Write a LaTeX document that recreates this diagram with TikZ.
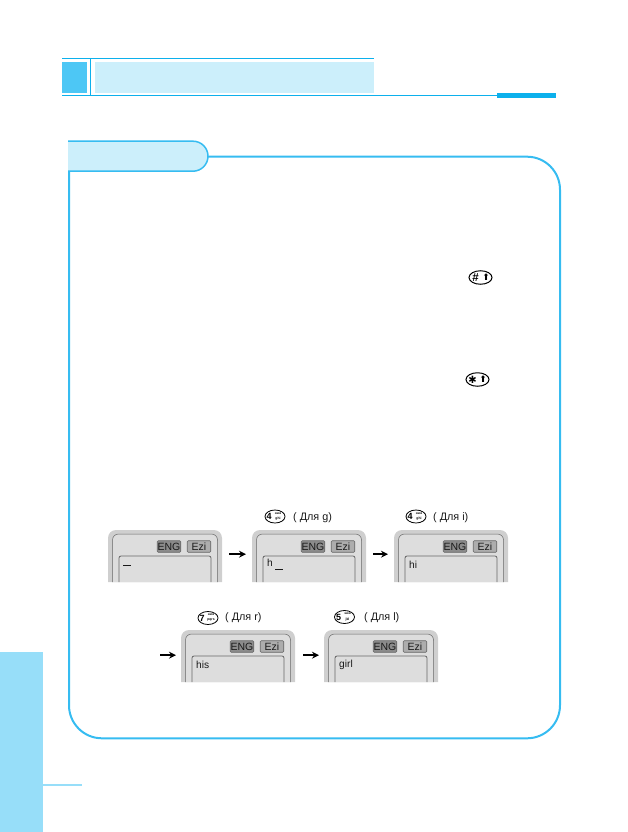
\documentclass[tikz,border=0pt]{standalone}
\usepackage{fontspec}
\setmainfont{Liberation Sans}
\newfontfamily\dejavu{DejaVu Sans}
\usetikzlibrary{shapes.geometric,arrows.meta}
\definecolor{cyanline}{HTML}{0CB0EC}
\definecolor{cyansq}{HTML}{4DC7F5}
\definecolor{cyanlt}{HTML}{CCEFFB}
\definecolor{framec}{HTML}{36BCF1}
\definecolor{sidebar}{HTML}{97DEF9}
\definecolor{phoneout}{HTML}{CFCFCF}
\definecolor{phonein}{HTML}{DDDDDD}
\definecolor{phoneln}{HTML}{666666}
\tikzset{
  phonebox/.style={minimum width=114pt,minimum height=52pt,inner sep=0pt,draw=none},
  tagbox/.style={rounded corners=1pt,draw=phoneln,line width=.6pt,minimum height=11.5pt,inner sep=0pt,font=\fontsize{10.5}{10.5}\selectfont,text=black!90},
  flowarrow/.style={line width=1.6pt,-{Stealth[length=7pt,width=7pt]},black},
  keyoval/.style={ellipse,draw=black,line width=.8pt,inner sep=0pt,minimum width=20pt,minimum height=13pt},
  hashoval/.style={ellipse,draw=black,line width=1pt,inner sep=0pt,minimum width=23pt,minimum height=13.5pt},
  forlabel/.style={anchor=west,inner sep=0pt,font=\fontsize{10.8}{11}\selectfont,text=black!90},
}
\newcommand{\curs}{\rule[-2.5pt]{7.5pt}{.9pt}}
% name, left x, top y, screen text
\newcommand{\phonepic}[4]{%
  \node[phonebox,anchor=north west] (#1) at (#2,#3) {};
  \begin{scope}[shift={(#2,#3)}]
    \fill[phoneout] (0,52) -- (0,8) arc[start angle=180,end angle=90,radius=8pt] -- (106,0) arc[start angle=90,end angle=0,radius=8pt] -- (114,52) -- cycle;
    \fill[phonein] (4.5,52) -- (4.5,10) arc[start angle=180,end angle=90,radius=6pt] -- (103.5,4) arc[start angle=90,end angle=0,radius=6pt] -- (109.5,52) -- cycle;
    \draw[phoneln,line width=.5pt] (4.5,52) -- (4.5,10) arc[start angle=180,end angle=90,radius=6pt] -- (103.5,4) arc[start angle=90,end angle=0,radius=6pt] -- (109.5,52);
    \draw[phoneln,line width=.8pt] (11,52) -- (11,28) arc[start angle=180,end angle=90,radius=2pt] -- (101,26) arc[start angle=90,end angle=0,radius=2pt] -- (103,52);
    \node[tagbox,fill=black!45,minimum width=23.5pt] (#1eng) at (61,16.5) {ENG};
    \node[tagbox,fill=black!32,minimum width=23.5pt] (#1ezi) at (91,16.5) {Ezi};
    \node[anchor=west,inner sep=0pt,font=\fontsize{10.2}{11}\selectfont,text=black!90] (#1txt) at (15,34.5) {#4};
  \end{scope}}
% name, x centre, y centre, digit, top letters, bottom letters
\newcommand{\keypic}[6]{%
  \node[keyoval] (#1) at (#2,#3) {};
  \node[inner sep=0pt,font=\bfseries\fontsize{9}{9}\selectfont] (#1d) at (#2-6,#3) {#4};
  \node[inner sep=0pt,font=\bfseries\fontsize{3.2}{3.2}\selectfont] (#1t) at (#2+3,#3-2.9) {#5};
  \node[inner sep=0pt,font=\bfseries\fontsize{3.4}{3.4}\selectfont] (#1b) at (#2+3,#3+2.4) {#6};}
\begin{document}
\begin{tikzpicture}[x=1pt,y=-1pt]
\useasboundingbox (0,0) rectangle (628,832);
% header
\fill[cyansq] (62,62) rectangle (87,93);
\fill[cyanlt] (95,62) rectangle (374,93);
\draw[cyanline,line width=1pt] (62,58.5) -- (374,58.5);
\draw[cyanline,line width=1pt] (62,95.5) -- (497,95.5);
\draw[cyanline,line width=1.3pt] (90.7,58.5) -- (90.7,95.5);
\fill[cyanline] (497,93) rectangle (556,98);
% side bar
\fill[sidebar] (0,652) rectangle (43,832);
\fill[sidebar] (43,784) rectangle (82,786);
% frame and tab
\draw[framec,line width=2pt] (205,156.7) -- (527,156.7) arc[start angle=90,end angle=0,radius=33pt] -- (560,705.3) arc[start angle=0,end angle=-90,radius=33pt] -- (102,738.3) arc[start angle=-90,end angle=-180,radius=33pt] -- (69,171);
\draw[framec,fill=cyanlt,line width=1.5pt] (68,141.2) -- (193,141.2) arc[start angle=90,end angle=-90,radius=15pt] -- (68,171.2);
% hash / star keys
\node[hashoval] (hashkey) at (480.5,277.5) {};
\node[inner sep=0pt,font=\bfseries\fontsize{11.5}{11.5}\selectfont] (hashsign) at (475.5,277.5) {\#};
\node[inner sep=0pt,font=\dejavu\fontsize{9}{9}\selectfont] (hasharrow) at (486.2,277.5) {⬆};
\node[hashoval] (starkey) at (477.5,379.5) {};
\node[inner sep=0pt,font=\dejavu\bfseries\fontsize{10}{10}\selectfont] (starsign) at (472.5,379.5) {✱};
\node[inner sep=0pt,font=\dejavu\fontsize{9}{9}\selectfont] (stararrow) at (483.2,379.5) {⬆};
% phones row 1
\phonepic{pa}{108}{530}{\curs}
\phonepic{pb}{252}{530}{h\hspace{2.5pt}\curs}
\phonepic{pc}{394}{530}{hi}
% phones row 2
\phonepic{pd}{181}{630}{his}
\phonepic{pe}{324}{630}{girl}
% start of second row arrow
\coordinate (rowstart) at ([xshift=-21pt,yshift=1pt]pd.west);
% arrows
\draw[flowarrow,shorten <=7pt,shorten >=6pt] ([yshift=2pt]pa.east) -- ([yshift=2pt]pb.west);
\draw[flowarrow,shorten <=7pt,shorten >=6pt] ([yshift=2pt]pb.east) -- ([yshift=2pt]pc.west);
\draw[flowarrow,shorten >=5pt] (rowstart) -- ([yshift=1pt]pd.west);
\draw[flowarrow,shorten <=8pt,shorten >=5pt] ([yshift=1pt]pd.east) -- ([yshift=1pt]pe.west);
% keys and labels
\keypic{ka}{275}{516.5}{4}{эюя}{ghi}
\node[forlabel] (la) at (293,517.5) {( Для g)};
\keypic{kb}{416}{516.5}{4}{эюя}{ghi}
\node[forlabel] (lb) at (433,517.5) {( Для i)};
\keypic{kc}{208}{618}{7}{эюя}{pqrs}
\node[forlabel] (lc) at (225,618) {( Для r)};
\keypic{kd}{344.5}{617}{5}{эюя}{jkl}
\node[forlabel] (ld) at (364,618) {( Для l)};
\end{tikzpicture}
\end{document}
